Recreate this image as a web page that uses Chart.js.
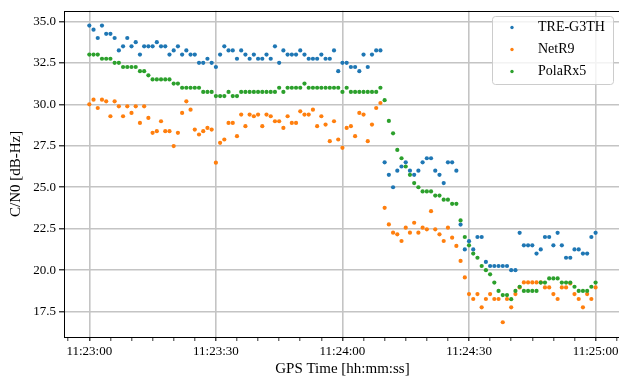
<!DOCTYPE html>
<html>
<head>
<meta charset="utf-8">
<script src="https://cdn.jsdelivr.net/npm/chart.js@4.4.0/dist/chart.umd.min.js"></script>
<style>
  html, body { margin: 0; padding: 0; background: #fff; overflow: hidden; }
  #grafico-cn0 { display: block; }
</style>
</head>
<body>
<canvas id="grafico-cn0" width="623" height="378"></canvas>
<script>
// segundos desde 11:23:00, uma amostra por segundo
const inicioSegundos = 0;
const fimSegundos = 120;

const ticksTempo = [0, 30, 60, 90, 120];
const labelsTempo = ['11:23:00', '11:23:30', '11:24:00', '11:24:30', '11:25:00'];
const ticksCN0 = [17.5, 20.0, 22.5, 25.0, 27.5, 30.0, 32.5, 35.0];

const nomesReceptores = ['TRE-G3TH', 'NetR9', 'PolaRx5'];
const coresReceptores = ['#1f77b4', '#ff7f0e', '#2ca02c'];

const cn0TRE = [
  34.75, 34.5, 34.0, 34.75, 34.25, 34.25, 34.0, 33.25, 33.5, 34.0,
  33.5, 33.75, 33.0, 33.5, 33.5, 33.5, 33.75, 33.5, 33.5, 33.0,
  33.25, 33.5, 33.0, 33.25, 33.0, 33.0, 32.5, 32.5, 32.75, 32.5,
  32.25, 33.0, 33.5, 33.25, 33.25, 32.75, 33.25, 33.0, 32.75, 33.0,
  32.75, 32.75, 33.0, 32.75, 33.5, 32.5, 33.25, 33.0, 33.0, 33.0,
  33.25, 33.0, 32.75, 32.75, 32.75, 33.0, 32.75, 32.75, 33.25, 32.0,
  32.5, 32.5, 32.25, 32.25, 32.0, 33.0, 32.25, 33.0, 33.25, 33.25,
  26.5, 25.75, 25.0, 26.0, 26.25, 26.5, 26.0, 25.75, 26.0, 26.5,
  26.75, 26.75, 26.0, 25.75, 25.25, 26.5, 26.5, 26.0, 22.75, 21.25,
  21.75, 21.25, 22.0, 22.0, 20.5, 20.25, 20.25, 20.25, 20.25, 20.25,
  20.0, 20.0, 22.25, 21.5, 21.5, 21.5, 21.0, 21.25, 22.0, 22.0,
  21.5, 22.25, 21.5, 20.75, 20.75, 21.25, 21.25, 21.0, 21.0, 22.0,
  22.25
];

const cn0NetR9 = [
  30.0, 30.28, 29.78, 30.28, 30.18, 29.28, 30.18, 29.88, 29.28, 29.88,
  29.48, 29.88, 28.88, 29.88, 29.18, 28.28, 28.38, 28.98, 28.38, 28.38,
  27.48, 28.28, 29.48, 30.18, 29.68, 28.48, 28.18, 28.38, 28.58, 28.48,
  26.48, 27.68, 27.88, 28.88, 28.88, 28.08, 29.38, 28.68, 29.38, 29.28,
  29.38, 28.68, 29.38, 29.28, 28.98, 28.98, 28.58, 29.28, 28.88, 28.88,
  29.58, 29.38, 29.38, 29.68, 28.68, 29.28, 28.78, 27.78, 28.98, 27.88,
  27.38, 28.58, 28.68, 28.08, 29.48, 29.38, 27.78, 28.78, 29.78, 30.08,
  23.76, 22.76, 22.26, 22.16, 21.76, 22.56, 22.26, 22.86, 22.26, 22.56,
  22.46, 23.56, 22.46, 22.16, 21.76, 22.56, 21.96, 21.46, 20.56, 19.56,
  18.56, 18.26, 18.56, 17.76, 18.26, 18.56, 18.26, 18.26, 16.86, 18.26,
  17.76, 18.56, 18.96, 19.26, 19.26, 19.26, 19.26, 19.26, 18.96, 18.96,
  18.56, 18.26, 18.96, 18.96, 19.2, 18.56, 18.26, 17.76, 18.56, 18.26,
  18.96
];

const cn0PolaRx5 = [
  33.0, 33.0, 33.0, 32.75, 32.75, 32.75, 32.5, 32.5, 32.25, 32.25,
  32.25, 32.25, 32.0, 32.0, 31.75, 31.5, 31.5, 31.5, 31.5, 31.5,
  31.25, 31.25, 31.0, 31.0, 31.0, 31.0, 31.0, 30.75, 30.75, 30.75,
  30.5, 30.5, 30.5, 30.75, 30.5, 30.5, 30.75, 30.75, 30.75, 30.75,
  30.75, 30.75, 30.75, 30.75, 30.75, 31.0, 30.75, 31.0, 31.0, 31.0,
  31.0, 31.25, 31.0, 31.0, 31.0, 31.0, 31.0, 31.0, 31.0, 31.0,
  30.75, 31.0, 30.75, 30.75, 30.75, 30.75, 30.75, 30.75, 30.75, 31.0,
  30.25, 29.0, 28.25, 27.25, 26.75, 26.25, 25.75, 25.25, 25.0, 24.75,
  24.75, 24.75, 24.5, 24.5, 24.25, 24.25, 24.0, 24.0, 23.0, 22.0,
  21.5, 21.0, 20.75, 20.25, 20.0, 19.75, 19.25, 18.75, 18.5, 18.5,
  18.25, 18.75, 19.0, 18.75, 18.75, 18.75, 18.75, 19.25, 19.25, 19.5,
  19.5, 19.5, 19.25, 19.25, 19.25, 19.0, 18.75, 18.75, 18.75, 19.0,
  19.25
];

const fonteSerif = '"Liberation Serif", "DejaVu Serif", serif';

function retornaPontos(valores) {
  return valores.map((valor, index) => ({ x: inicioSegundos + index, y: valor }));
}

function retornaDatasets() {
  const series = [cn0TRE, cn0NetR9, cn0PolaRx5];
  return series.map((valores, index) => ({
    label: nomesReceptores[index],
    data: retornaPontos(valores),
    backgroundColor: coresReceptores[index],
    borderWidth: 0,
    pointRadius: 2.1,
    pointHoverRadius: 2.1,
    showLine: false,
    // matplotlib desenha a ultima serie por cima
    order: series.length - index,
  }));
}

// moldura em volta da area do grafico
const pluginMoldura = {
  id: 'moldura',
  afterDatasetsDraw(chart) {
    const { ctx, chartArea } = chart;
    ctx.save();
    ctx.strokeStyle = '#000';
    ctx.lineWidth = 1;
    ctx.strokeRect(
      Math.round(chartArea.left) + 0.5,
      Math.round(chartArea.top) + 0.5,
      Math.round(chartArea.right - chartArea.left),
      Math.round(chartArea.bottom - chartArea.top)
    );
    ctx.restore();
  },
};

// legenda dentro do grafico, canto superior direito
const pluginLegenda = {
  id: 'legendaInterna',
  afterDatasetsDraw(chart) {
    const { ctx } = chart;
    const x = 492.5, y = 16.5, w = 121, h = 68, r = 3;
    ctx.save();
    ctx.beginPath();
    ctx.roundRect(x, y, w, h, r);
    ctx.fillStyle = 'rgba(255, 255, 255, 0.8)';
    ctx.fill();
    ctx.strokeStyle = '#cccccc';
    ctx.lineWidth = 1;
    ctx.stroke();

    ctx.font = '14px ' + fonteSerif;
    ctx.textBaseline = 'middle';
    ctx.textAlign = 'left';
    nomesReceptores.forEach((nome, index) => {
      const yLinha = 27.5 + index * 22;
      ctx.beginPath();
      ctx.arc(512, yLinha, 1.7, 0, Math.PI * 2);
      ctx.fillStyle = coresReceptores[index];
      ctx.fill();
      ctx.fillStyle = '#000';
      ctx.fillText(nome, 538, yLinha);
    });
    ctx.restore();
  },
};

Chart.defaults.color = '#000';
Chart.defaults.font.family = fonteSerif;

const config = {
  type: 'scatter',
  data: {
    datasets: retornaDatasets(),
  },
  options: {
    responsive: false,
    animation: false,
    layout: {
      padding: { top: 10, right: 2, left: 0, bottom: 0 },
    },
    plugins: {
      legend: { display: false },
      tooltip: { enabled: false },
    },
    scales: {
      x: {
        type: 'linear',
        min: -6,
        max: 126,
        afterFit(scale) {
          scale.height = 41;
        },
        ticks: {
          stepSize: 5,
          includeBounds: false,
          autoSkip: false,
          maxRotation: 0,
          minRotation: 0,
          padding: 3,
          font: { size: 13 },
          callback: function (value) {
            const idx = ticksTempo.indexOf(value);
            return idx >= 0 ? labelsTempo[idx] : '';
          },
        },
        grid: {
          color: (ctx) =>
            ctx.tick && ticksTempo.includes(ctx.tick.value) ? '#c4c4c4' : 'rgba(0,0,0,0)',
          lineWidth: 1.6,
          tickColor: '#000',
          tickLength: 4,
          tickWidth: (ctx) => (ctx.tick && ticksTempo.includes(ctx.tick.value) ? 1.1 : 0.8),
        },
        border: { display: false },
        title: {
          display: true,
          text: 'GPS Time [hh:mm:ss]',
          font: { size: 15 },
          padding: { top: 0, bottom: 0 },
        },
      },
      y: {
        min: 15.97,
        max: 35.64,
        afterFit(scale) {
          scale.width = 64;
        },
        ticks: {
          stepSize: 2.5,
          includeBounds: false,
          padding: 3,
          font: { size: 13 },
          callback: function (value) {
            return ticksCN0.includes(value) ? value.toFixed(1) : '';
          },
        },
        grid: {
          color: '#c4c4c4',
          lineWidth: 1.6,
          tickColor: '#000',
          tickLength: 5,
          tickWidth: 1.1,
        },
        border: { display: false },
        title: {
          display: true,
          text: 'C/N0 [dB-Hz]',
          font: { size: 15 },
          padding: { top: 7, bottom: 0 },
        },
      },
    },
  },
  plugins: [pluginMoldura, pluginLegenda],
};

let graficoCN0 = new Chart(document.getElementById('grafico-cn0').getContext('2d'), config);
</script>
</body>
</html>
